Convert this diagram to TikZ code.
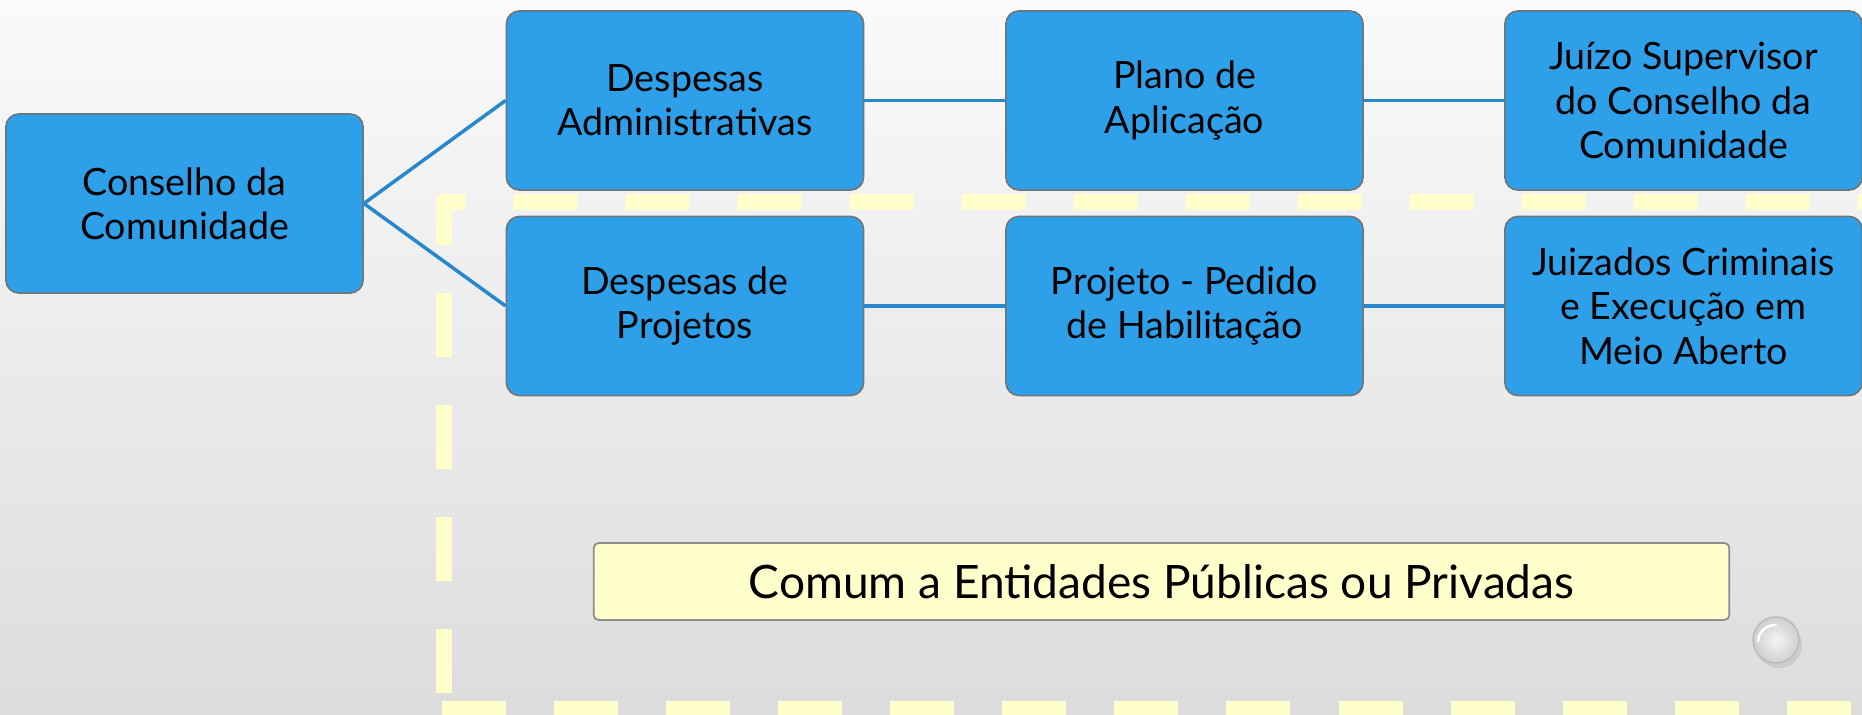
\documentclass[tikz,border=0pt]{standalone}
\usepackage{fontspec}
\setmainfont{Lato}
\usepackage{tikz}
\usetikzlibrary{positioning}
\definecolor{boxblue}{RGB}{46,160,233}
\definecolor{linkblue}{RGB}{40,136,206}
\definecolor{paleyellow}{RGB}{255,255,204}
\begin{document}
\begin{tikzpicture}[x=0.01cm, y=-0.01cm,
    bluebox/.style={draw=black!55, line width=0.45pt, fill=boxblue, rounded corners=0.13cm,
      minimum width=3.57cm, minimum height=1.79cm, align=center, inner sep=0pt,
      font=\fontsize{10.7}{12.6}\selectfont},
    linkline/.style={draw=linkblue, line width=1pt},
    dashframe/.style={draw=paleyellow, line width=0.16cm, line join=round,
      dash pattern=on 0.64cm off 0.48cm},
    notebox/.style={draw=black!45, line width=0.5pt, fill=paleyellow, rounded corners=0.05cm,
      minimum width=11.35cm, minimum height=0.77cm, inner sep=0pt,
      font=\fontsize{13.1}{15}\selectfont}]
    \useasboundingbox (0, 0) rectangle (1862, 715);
    \clip (0, 0) rectangle (1862, 715);
    \shade [top color=gray!4, bottom color=gray!27] (0, 0) rectangle (1862, 715);

    % dashed yellow frame
    \draw [dashframe, dash phase=0.96cm] (444, 709) -- (444, 202) -- (1900, 202);
    \draw [dashframe] (442, 709) -- (1900, 709);

    \node [bluebox] (conselho) at (184.5, 203.5) {Conselho da\\Comunidade};

    \node [bluebox] (adm) at (685, 100.5) {Despesas\\Administrativas};
    \node [bluebox] (plano) at (1184.5, 100.5) {Plano de\\Aplicação};
    \node [bluebox] (juizo) at (1683.5, 100.5) {Juízo Supervisor\\do Conselho da\\Comunidade};

    \node [bluebox] (proj) at (685, 306) {Despesas de\\Projetos};
    \node [bluebox] (pedido) at (1184.5, 306) {Projeto - Pedido\\de Habilitação};
    \node [bluebox] (juizados) at (1683.5, 306) {Juizados Criminais\\e Execução em\\Meio Aberto};

    \draw [linkline] (conselho.east) -- (adm.west);
    \draw [linkline] (conselho.east) -- (proj.west);
    \draw [linkline] (adm) -- (plano);
    \draw [linkline] (plano) -- (juizo);
    \draw [linkline] (proj) -- (pedido);
    \draw [linkline] (pedido) -- (juizados);

    \node [notebox] (comum) at (1161.5, 581.5) {Comum a Entidades Públicas ou Privadas};

    % little glass button
    \fill [black!20] (1779, 645) circle (0.23cm);
    \shade [inner color=gray!8, outer color=gray!38, draw=gray!55, line width=0.4pt] (1776, 640) circle (0.23cm);
    \draw [white, line width=0.7pt] (1758, 642) arc (180:85:0.17cm);
  \end{tikzpicture}
\end{document}
